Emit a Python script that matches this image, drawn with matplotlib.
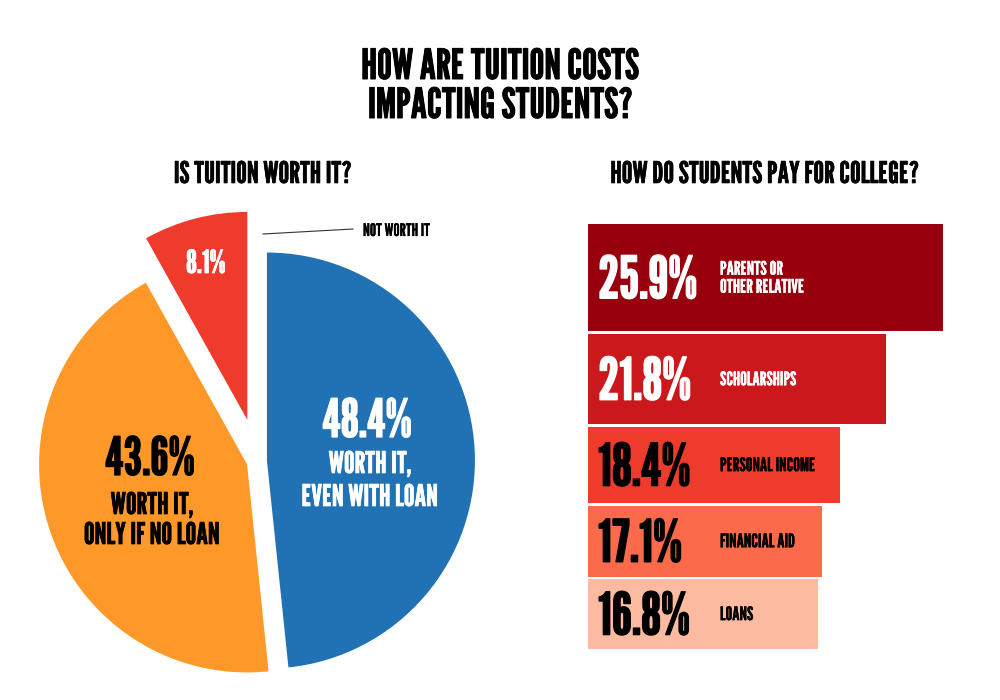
import matplotlib
matplotlib.use("Agg")
import matplotlib.pyplot as plt
import matplotlib.patheffects as pe
from matplotlib.transforms import ScaledTranslation
import numpy as np

FONT = ['League Gothic', 'DejaVu Sans']

# ---------------- data ----------------
title_lines = ["HOW ARE TUITION COSTS", "IMPACTING STUDENTS?"]
pie_title = "IS TUITION WORTH IT?"
bar_title = "HOW DO STUDENTS PAY FOR COLLEGE?"

pie_labels = ["WORTH IT,\nEVEN WITH LOAN", "WORTH IT,\nONLY IF NO LOAN", "NOT WORTH IT"]
pie_values = [48.4, 43.6, 8.1]
pie_colors = ["#2171b5", "#fe9929", "#ef3b2c"]
pie_text_colors = ["white", "black", "white"]

bar_labels = ["PARENTS OR\nOTHER RELATIVE", "SCHOLARSHIPS", "PERSONAL INCOME",
              "FINANCIAL AID", "LOANS"]
bar_values = [25.9, 21.8, 18.4, 17.1, 16.8]
bar_colors = ["#99000d", "#cb181d", "#ef3b2c", "#fb6a4a", "#fcbba1"]
bar_text_colors = ["white", "white", "black", "black", "black"]

# ---------------- figure ----------------
W, H = 1000, 700
fig = plt.figure(figsize=(W / 100, H / 100), dpi=100)
fig.patch.set_facecolor("white")


def fx(x):
    return x / W


def fy(y):
    return 1 - y / H


def shift(px_down):
    return ScaledTranslation(0, -px_down / 100, fig.dpi_scale_trans)


def bold(color, w):
    return [pe.withStroke(linewidth=w, foreground=color)]


# titles
for line, base in zip(title_lines, [79, 118]):
    fig.text(0.5, fy(base), line, ha="center", va="baseline",
             fontsize=30, family=FONT, color="black",
             path_effects=bold("black", 0.7))
fig.text(fx(263), fy(183), pie_title, ha="center", va="baseline",
         fontsize=21.5, family=FONT, path_effects=bold("black", 0.45))
fig.text(fx(765), fy(183), bar_title, ha="center", va="baseline",
         fontsize=21.5, family=FONT, path_effects=bold("black", 0.45))

# ---------------- pie ----------------
R_PX = 208.0
cx, cy = 258.0, 461.0
xl, xr, yb, yt = -1.2, 1.2, -1.05, 1.35
ax_pie = fig.add_axes([fx(cx + xl * R_PX), (H - cy + yb * R_PX) / H,
                       (xr - xl) * R_PX / W, (yt - yb) * R_PX / H])
ax_pie.pie(pie_values, colors=pie_colors, explode=[0.043, 0.055, 0.204],
           startangle=90, counterclock=False, radius=1.0,
           wedgeprops=dict(linewidth=0))
ax_pie.set_xlim(xl, xr)
ax_pie.set_ylim(yb, yt)
ax_pie.axis("off")

# blue wedge labels
c0 = pie_text_colors[0]
fig.text(fx(367), fy(437), f"{pie_values[0]}%", ha="center", va="baseline",
         fontsize=38, family=FONT, color=c0, path_effects=bold(c0, 0.9))
for i, line in enumerate(pie_labels[0].split("\n")):
    fig.text(fx(370), fy(473 + 33 * i), line, ha="center", va="baseline",
             fontsize=21.5, family=FONT, color=c0, path_effects=bold(c0, 0.5))
# orange wedge labels
c1 = pie_text_colors[1]
fig.text(fx(150), fy(475), f"{pie_values[1]}%", ha="center", va="baseline",
         fontsize=38, family=FONT, color=c1, path_effects=bold(c1, 0.9))
for i, line in enumerate(pie_labels[1].split("\n")):
    fig.text(fx(152), fy(514 + 30 * i), line, ha="center", va="baseline",
             fontsize=21.5, family=FONT, color=c1, path_effects=bold(c1, 0.5))
# red wedge labels
c2 = pie_text_colors[2]
fig.text(fx(206), fy(273), f"{pie_values[2]}%", ha="center", va="baseline",
         fontsize=23, family=FONT, color=c2, path_effects=bold(c2, 0.5))
fig.text(fx(363), fy(236), pie_labels[2], ha="left", va="baseline",
         fontsize=12.5, family=FONT, color="black",
         path_effects=bold("black", 0.2))
fig.add_artist(plt.Line2D([fx(263), fx(353)], [fy(234), fy(229)],
                          transform=fig.transFigure, color="#333333", lw=0.8))

# ---------------- bars ----------------
gap = 0.6
heights = np.array(bar_values)
starts = np.concatenate([[0], np.cumsum(heights[:-1] + gap)])
centers = starts + heights / 2
total = heights.sum() + gap * (len(heights) - 1)

X_PX = 13.69           # pixels per percentage point
Y_PX = 4.15            # pixels per unit of bar thickness
bar_left, bar_top = 588, 224
ax_bar = fig.add_axes([fx(bar_left), fy(bar_top + total * Y_PX),
                       (W - bar_left) / W, total * Y_PX / H])
ax_bar.barh(centers, bar_values, height=heights, left=0, color=bar_colors,
            linewidth=0)
ax_bar.set_xlim(0, (W - bar_left) / X_PX)
ax_bar.set_ylim(total, 0)
ax_bar.axis("off")

for c, v, lab, tc in zip(centers, bar_values, bar_labels, bar_text_colors):
    ax_bar.text(10 / X_PX, c, f"{v}%", ha="left", va="baseline",
                fontsize=42, family=FONT, color=tc,
                path_effects=bold(tc, 1.0),
                transform=ax_bar.transData + shift(20.5))
    lines = lab.split("\n")
    n = len(lines)
    for i, line in enumerate(lines):
        off = (i - (n - 1) / 2) * 18 + 6
        ax_bar.text((720 - bar_left) / X_PX, c, line, ha="left", va="baseline",
                    fontsize=13.5, family=FONT, color=tc,
                    path_effects=bold(tc, 0.25),
                    transform=ax_bar.transData + shift(off))

fig.savefig("out.png", dpi=100, facecolor="white")
